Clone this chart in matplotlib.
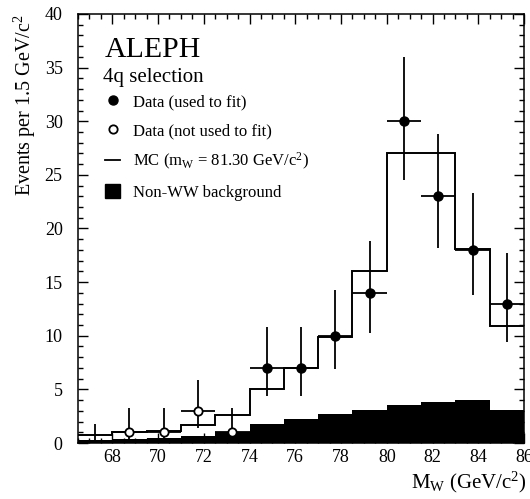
import matplotlib
matplotlib.use('Agg')
import matplotlib.pyplot as plt
from matplotlib.lines import Line2D
from matplotlib.patches import Patch
from matplotlib.ticker import MultipleLocator

plt.rcParams['font.family'] = ['Liberation Serif', 'DejaVu Serif']
plt.rcParams['mathtext.fontset'] = 'custom'
plt.rcParams['mathtext.rm'] = 'Liberation Serif'
plt.rcParams['mathtext.it'] = 'Liberation Serif:italic'

# bin edges of the 1.5 GeV histogram
edges = [66.5, 68, 69.5, 71, 72.5, 74, 75.5, 77, 78.5, 80, 81.5, 83, 84.5, 86]

# MC expectation and non-WW background per bin
mc = [0.7, 1.0, 1.1, 1.7, 2.6, 5.0, 7.0, 9.9, 16.0, 27.0, 27.0, 18.1, 10.9]
bkg = [0.3, 0.35, 0.45, 0.65, 1.0, 1.75, 2.2, 2.7, 3.1, 3.55, 3.85, 4.0, 3.1]

# data used in the fit
fit_x = [74.75, 76.25, 77.75, 79.25, 80.75, 82.25, 83.75, 85.25]
fit_y = [7, 7, 10, 14, 30, 23, 18, 13]
fit_lo = [2.6, 2.6, 3.1, 3.7, 5.5, 4.8, 4.2, 3.6]
fit_hi = [3.8, 3.8, 4.3, 4.8, 6.0, 5.8, 5.3, 4.7]

# data not used in the fit
nofit_x = [68.75, 70.25, 71.75, 73.25]
nofit_y = [1, 1, 3, 1]
nofit_lo = [0.8, 0.8, 1.6, 0.8]
nofit_hi = [2.3, 2.3, 2.9, 2.3]

# empty bin (upper error only)
zero_x = [67.25]
zero_y = [0]
zero_hi = [1.8]

half_bin = 0.75

fig = plt.figure(figsize=(5.30, 4.99), dpi=100)
ax = fig.add_axes([78 / 530, 1 - 443 / 499, 446 / 530, 429 / 499])

ax.stairs(bkg, edges, fill=True, color='black', baseline=0)
ax.stairs(mc, edges, color='black', lw=1.4, baseline=None)

ax.errorbar(zero_x, zero_y, yerr=[[0], zero_hi], fmt='none', ecolor='black', elinewidth=1.3)
ax.errorbar(nofit_x, nofit_y, xerr=half_bin, yerr=[nofit_lo, nofit_hi], fmt='o',
            mfc='white', mec='black', mew=1.3, ms=6, ecolor='black', elinewidth=1.3, capsize=0)
ax.errorbar(fit_x, fit_y, xerr=half_bin, yerr=[fit_lo, fit_hi], fmt='o',
            color='black', ms=6.5, ecolor='black', elinewidth=1.3, capsize=0)

ax.set_xlim(66.5, 86)
ax.set_ylim(0, 40)
ax.xaxis.set_major_locator(MultipleLocator(2))
ax.xaxis.set_minor_locator(MultipleLocator(0.5))
ax.yaxis.set_major_locator(MultipleLocator(5))
ax.yaxis.set_minor_locator(MultipleLocator(1))
ax.tick_params(which='both', direction='in', top=True, right=True, width=1)
ax.tick_params(which='major', length=7, labelsize=13)
ax.tick_params(axis='x', which='major', pad=4)
ax.tick_params(axis='y', which='major', pad=11)
ax.tick_params(which='minor', length=3.5)
for s in ax.spines.values():
    s.set_linewidth(1.1)

ax.set_ylabel('Events per 1.5 GeV/c$^2$', fontsize=14.5, loc='top', labelpad=5)
ax.set_xlabel(r'M$_\mathrm{W}$ (GeV/c$^2$)', fontsize=15)
ax.xaxis.set_label_coords(1.007, -0.062)
ax.xaxis.label.set_horizontalalignment('right')

ax.text(0.06, 0.9005, 'ALEPH', transform=ax.transAxes, fontsize=21.5, va='baseline')
ax.text(0.055, 0.842, '4q selection', transform=ax.transAxes, fontsize=15, va='baseline')

handles = [
    Line2D([], [], ls='none', marker='o', color='black', ms=6.5),
    Line2D([], [], ls='none', marker='o', mfc='white', mec='black', mew=1.3, ms=6),
    Line2D([], [], color='black', lw=1.3),
    Patch(facecolor='black', edgecolor='black'),
]
labels = ['Data (used to fit)', 'Data (not used to fit)',
          r'MC (m$_\mathrm{W}$ = 81.30 GeV/c$^2$)', 'Non-WW background']
ax.legend(handles, labels, loc='upper left', bbox_to_anchor=(27 / 446, 0.814),
          frameon=False, fontsize=12, borderpad=0, borderaxespad=0,
          handlelength=0.9, handleheight=0.9, handletextpad=0.78, labelspacing=0.72)

fig.savefig('out.png', dpi=100)
